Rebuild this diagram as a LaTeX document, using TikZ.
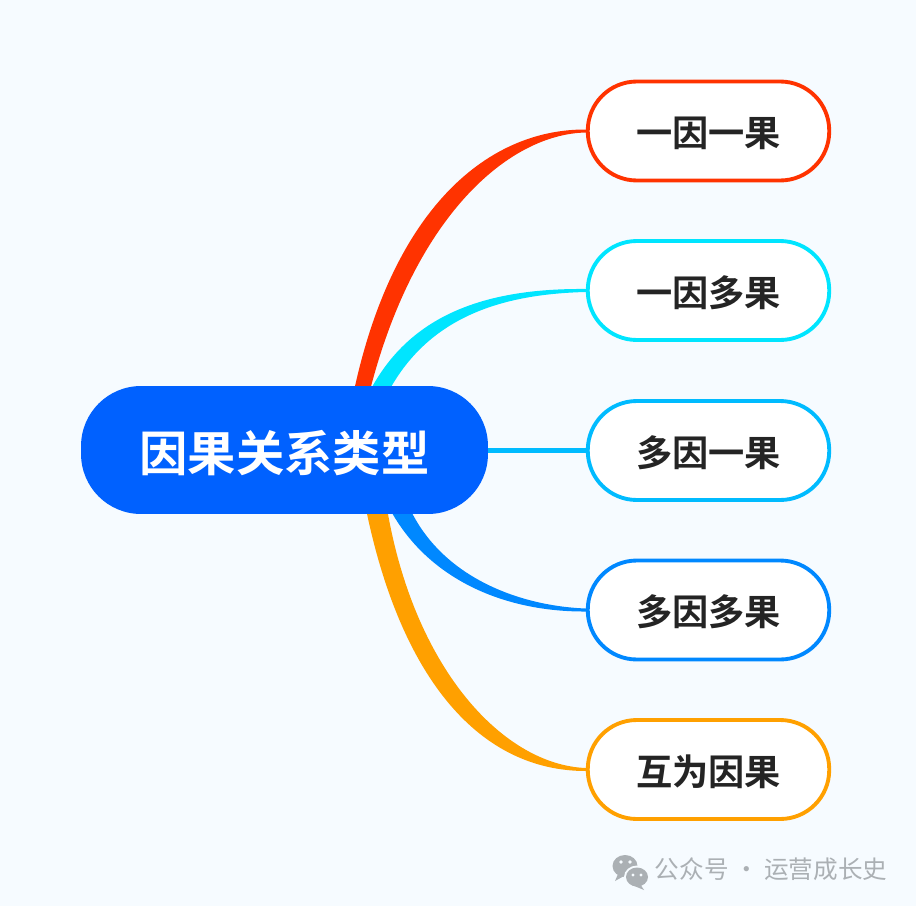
\documentclass[tikz,border=0pt]{standalone}
\usepackage{fontspec}
\usepackage{xcolor}
\usetikzlibrary{backgrounds,calc,shapes.geometric}
\newfontfamily\cjk[BoldFont={Noto Sans CJK SC Bold}]{Noto Sans CJK SC}
\definecolor{pagebg}{HTML}{F6FBFF}
\definecolor{rootblue}{HTML}{0061FF}
\definecolor{redline}{HTML}{FF3300}
\definecolor{cyanline}{HTML}{00E5FF}
\definecolor{skyline}{HTML}{00BBFF}
\definecolor{blueline}{HTML}{0088FF}
\definecolor{orangeline}{HTML}{FFA000}
\definecolor{marktext}{HTML}{ABB0B4}
\tikzset{%
	rootbox/.style = {fill=rootblue, text=white, rectangle, rounded corners=1.2cm, minimum width=8.14cm, minimum height=2.56cm, text height=27pt, text depth=2.7pt, font=\cjk\bfseries\fontsize{27.5}{30}\selectfont},
	leafbox/.style = {draw=#1, fill=white, line width=2.2pt, rectangle, rounded corners=0.98cm, minimum width=4.83cm, minimum height=1.98cm, text height=20pt, text depth=2pt, text=black!86, font=\cjk\bfseries\fontsize{20.6}{24}\selectfont},
	marklabel/.style = {text=marktext, inner sep=0pt, font=\cjk\fontsize{14}{16}\selectfont},
}

\begin{document}
\begin{tikzpicture}[x=0.02cm,y=-0.02cm]
		\useasboundingbox (0,0) rectangle (916,906);
		
		\node[rootbox] (root) at (284.5,450) {因果关系类型};
		\node[leafbox=redline] (leafa) at (708.5,131) {一因一果};
		\node[leafbox=cyanline] (leafb) at (708.5,290.5) {一因多果};
		\node[leafbox=skyline] (leafc) at (708.5,450.5) {多因一果};
		\node[leafbox=blueline] (leafd) at (708.5,610) {多因多果};
		\node[leafbox=orangeline] (leafe) at (708.5,769.5) {互为因果};
		\node[marklabel,anchor=west] (mark) at (654.5,869) {公众号 · 运营成长史};
		
		\begin{scope}[on background layer]
		\fill[pagebg] (0,0) rectangle (916,906);
		
		\fill[redline] ($(root.north west)+(274,2)$) .. controls (395,205) and (490,129) .. ($(leafa.west)+(0,-1.5)$) -- ($(leafa.west)+(0,1.5)$) .. controls (510,134) and (416,214) .. ($(root.north west)+(290,2)$) -- cycle;
		\fill[cyanline] ($(root.north west)+(291,2)$) .. controls (410,318) and (480,288) .. ($(leafb.west)+(0,-1.5)$) -- ($(leafb.west)+(0,1.5)$) .. controls (505,294) and (432,315) .. ($(root.north west)+(310,2)$) -- cycle;
		\draw[skyline,line width=2.4pt] (root.east |- leafc.west) -- (leafc.west);
		\fill[blueline] ($(root.south west)+(311,-2)$) .. controls (430,580) and (505,612) .. ($(leafd.west)+(0,1.5)$) -- ($(leafd.west)+(0,-1.5)$) .. controls (520,606) and (445,578) .. ($(root.south west)+(331,-2)$) -- cycle;
		\fill[orangeline] ($(root.south west)+(286,-2)$) .. controls (402,680) and (480,771) .. ($(leafe.west)+(0,1.5)$) -- ($(leafe.west)+(0,-1.5)$) .. controls (505,765) and (416,672) .. ($(root.south west)+(307,-2)$) -- cycle;
		\end{scope}
		
		% small chat mark
		\fill[marktext] (625,866) ellipse (12.5 and 11);
		\fill[marktext] (618,874) -- (615,881) -- (624,876) -- cycle;
		\fill[pagebg] (637,877) ellipse (13 and 11.5);
		\fill[marktext] (637,877) ellipse (11 and 9.5);
		\fill[marktext] (640,884) -- (644,890) -- (632,885) -- cycle;
		\fill[pagebg] (621,862) circle (1.8) (630,862) circle (1.8) (633,875) circle (1.6) (641,875) circle (1.6);
		\end{tikzpicture}
\end{document}
